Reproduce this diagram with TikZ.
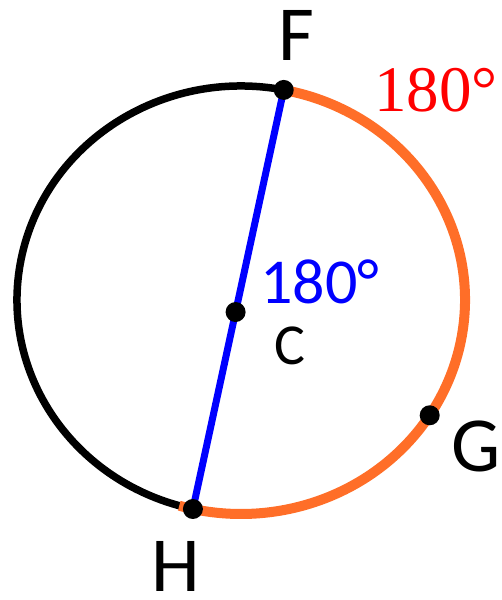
\documentclass[tikz,border=0pt]{standalone}
\usepackage{fontspec}
\setmainfont{Carlito}
\newfontfamily\redserif{Liberation Serif}
\usetikzlibrary{calc}
\definecolor{arcorange}{RGB}{255,110,40}
\begin{document}
\begin{tikzpicture}[x=1pt,y=1pt,
  dot/.style={circle,fill=black,inner sep=0pt,minimum size=20pt},
  lbl/.style={inner sep=0pt,font=\fontsize{78}{80}\selectfont},
  blackarc/.style={line width=7.5pt,black},
  orangearc/.style={line width=10pt,arcorange},
  diam/.style={line width=7pt,blue}]
\useasboundingbox (0,0) rectangle (502,600);
\coordinate (O) at (241,300);
\coordinate (Fp) at ($(O)+(79:224pt and 214pt)$);
\coordinate (Hp) at ($(O)+(257.6:224pt and 214pt)$);
\coordinate (Gp) at ($(O)+(-32.6:224pt and 214pt)$);
\coordinate (Cp) at ($(Fp)!0.53!(Hp)$);
% arcs
\draw[blackarc] (Fp) arc[start angle=79,end angle=257.6,x radius=224pt,y radius=214pt];
\draw[orangearc] (Fp) arc[start angle=79,end angle=-106,x radius=224pt,y radius=214pt];
% diameter
\draw[diam] (Fp) -- (Hp);
% dots
\node[dot] (F) at (Fp) {};
\node[dot] (H) at (Hp) {};
\node[dot] (G) at (Gp) {};
\node[dot] (C) at (Cp) {};
% labels
\node[lbl] (Flbl) at (296,565) {F};
\node[lbl] (Hlbl) at (176,34) {H};
\node[lbl] (Glbl) at (476,154) {G};
\node[inner sep=0pt,font=\fontsize{58}{60}\selectfont] (Clbl) at (290,254) {C};
\node[inner sep=0pt,text=blue,font=\fontsize{64}{66}\selectfont] (ang) at (320,318) {180°};
\node[inner sep=0pt,text=red,font=\redserif\fontsize{65}{67}\selectfont] (arclbl) at (436,510) {180°};
\end{tikzpicture}
\end{document}
